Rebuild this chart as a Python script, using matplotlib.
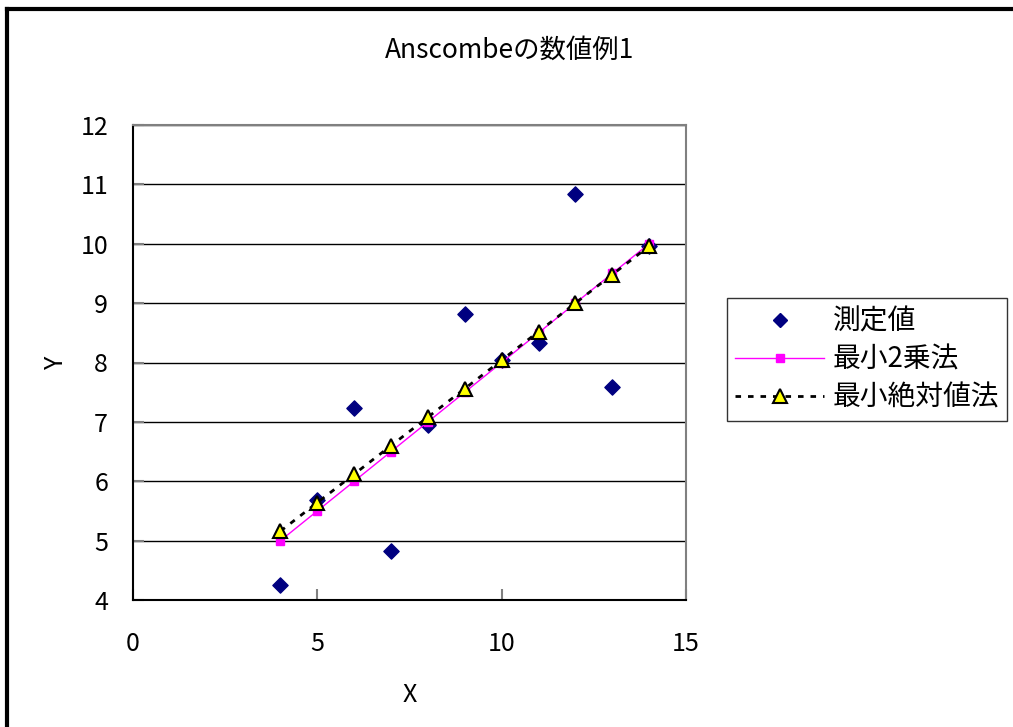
import matplotlib.pyplot as plt
from matplotlib.lines import Line2D

plt.rcParams['font.family'] = ['Noto Sans CJK JP', 'DejaVu Sans']

# Anscombe data set 1 and the two fitted lines
x_obs = [10, 8, 13, 9, 11, 14, 6, 4, 12, 7, 5]
y_obs = [8.04, 6.95, 7.58, 8.81, 8.33, 9.96, 7.24, 4.26, 10.84, 4.82, 5.68]

x_fit = [4, 5, 6, 7, 8, 9, 10, 11, 12, 13, 14]
y_ls = [5.00, 5.50, 6.00, 6.50, 7.00, 7.50, 8.00, 8.50, 9.00, 9.50, 10.00]
y_lad = [5.16, 5.64, 6.12, 6.60, 7.08, 7.56, 8.04, 8.52, 9.00, 9.48, 9.96]

labels = ['測定値', '最小2乗法', '最小絶対値法']

fig = plt.figure(figsize=(10.13, 7.27), dpi=100)
ax = fig.add_axes([133 / 1013, 127 / 727, 553 / 1013, 475 / 727])

# outer frame of the chart area
fig.add_artist(Line2D([7 / 1013, 7 / 1013], [0, 1 - 9 / 727], color='black', lw=3))
fig.add_artist(Line2D([7 / 1013, 1], [1 - 9 / 727, 1 - 9 / 727], color='black', lw=3))

lad_style = (0, (2, 2.5))

ax.scatter(x_obs, y_obs, marker='D', s=60, color='#000080', zorder=3)
ax.plot(x_fit, y_ls, color='#ff00ff', lw=1, marker='s', markersize=6,
        markerfacecolor='#ff00ff', markeredgecolor='#ff00ff', zorder=4)
ax.plot(x_fit, y_lad, color='black', lw=2, linestyle=lad_style, marker='^',
        markersize=10, markerfacecolor='#ffff00', markeredgecolor='black',
        markeredgewidth=1.5, zorder=5)

ax.set_xlim(0, 15)
ax.set_ylim(4, 12)
ax.set_xticks([0, 5, 10, 15])
ax.set_yticks(range(4, 13))
ax.yaxis.grid(True, color='black', lw=1)
ax.set_axisbelow(True)
ax.tick_params(direction='in', length=8, width=1.5, color='#808080',
               labelsize=18)
ax.tick_params(axis='x', pad=22)
ax.tick_params(axis='y', pad=18)

for side in ['left', 'bottom']:
    ax.spines[side].set_color('black')
    ax.spines[side].set_linewidth(1.5)
for side in ['right', 'top']:
    ax.spines[side].set_color('#808080')
    ax.spines[side].set_linewidth(1.5)

ax.set_xlabel('X', fontsize=18, labelpad=18)
ax.set_ylabel('Y', fontsize=18, labelpad=8, rotation=90)

fig.text(510 / 1013, 1 - 50 / 727, 'Anscombeの数値例1', ha='center', va='center',
         fontsize=19)

handles = [
    Line2D([], [], linestyle='none', marker='D', markersize=7, color='#000080'),
    Line2D([], [], color='#ff00ff', lw=1, marker='s', markersize=6,
           markerfacecolor='#ff00ff', markeredgecolor='#ff00ff'),
    Line2D([], [], color='black', lw=2, linestyle=lad_style, marker='^',
           markersize=10, markerfacecolor='#ffff00', markeredgecolor='black',
           markeredgewidth=1.5),
]
leg = fig.legend(handles, labels, loc='upper left',
                 bbox_to_anchor=(727 / 1013, 1 - 298 / 727), fontsize=20,
                 frameon=True, fancybox=False, edgecolor='black',
                 handlelength=3.2, handletextpad=0.3, labelspacing=0.3,
                 borderpad=0.3, borderaxespad=0)
leg.get_frame().set_linewidth(1)

fig.savefig('out.png', dpi=100)
